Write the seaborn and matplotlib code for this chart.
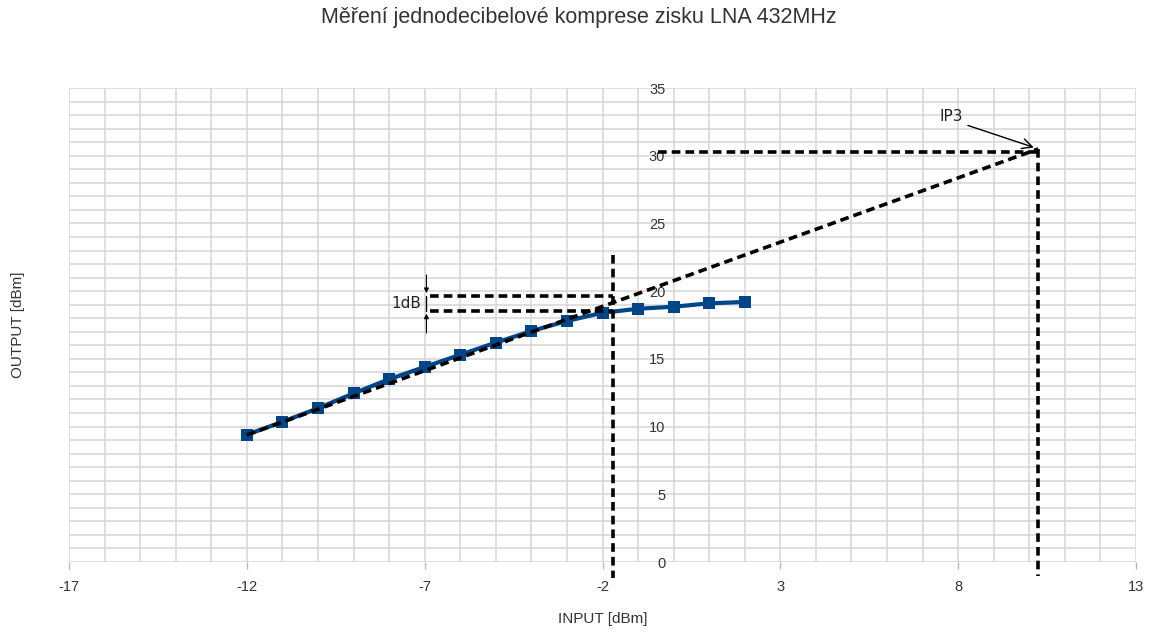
import matplotlib
matplotlib.use("Agg")
import matplotlib.pyplot as plt
import seaborn as sns
import pandas as pd
from matplotlib.ticker import MultipleLocator, FixedLocator

# ---- data ----
input_dbm = [-12, -11, -10, -9, -8, -7, -6, -5, -4, -3, -2, -1, 0, 1, 2]
output_dbm = [9.4, 10.35, 11.35, 12.45, 13.5, 14.4, 15.3, 16.2, 17.05, 17.8, 18.4, 18.7, 18.85, 19.1, 19.2]
x_ticks = [-17, -12, -7, -2, 3, 8, 13]
y_ticks = [0, 5, 10, 15, 20, 25, 30, 35]
title = "Měření jednodecibelové komprese zisku LNA 432MHz"

# annotation construction values
ip3_point = (10.25, 30.5)
lin_start = (-12, 9.38)
p1db_x = -1.7
p1db_levels = [19.65, 18.55]
ip3_level = 30.3

sns.set_style("white")
plt.rcParams['font.family'] = ['Liberation Sans', 'DejaVu Sans']
plt.rcParams['axes.unicode_minus'] = False

fig = plt.figure(figsize=(11.57, 6.33), dpi=100)
ax = fig.add_axes([69/1157, 1-562/633, (1136-69)/1157, (562-88)/633])

df = pd.DataFrame({"INPUT": input_dbm, "OUTPUT": output_dbm})
sns.lineplot(data=df, x="INPUT", y="OUTPUT", ax=ax, color="#004586", linewidth=3,
             marker="s", markersize=9, markeredgewidth=0, zorder=3)

ax.set_xlim(-17, 13)
ax.set_ylim(0, 35)
ax.xaxis.set_major_locator(FixedLocator(x_ticks))
ax.xaxis.set_minor_locator(MultipleLocator(1))
ax.yaxis.set_major_locator(FixedLocator(y_ticks))
ax.yaxis.set_minor_locator(MultipleLocator(1))
ax.grid(True, which="both", color="#d6d6d6", linewidth=1.1)
ax.set_axisbelow(True)
for s in ax.spines.values():
    s.set_visible(False)
ax.spines['left'].set_position(('data', 0))
ax.tick_params(axis='y', which='both', length=0, pad=6, labelsize=10.5, labelcolor="#333333")
ax.tick_params(axis='x', which='major', length=5, width=1, color="#b8b8b8", pad=8,
               labelsize=10.5, labelcolor="#333333", bottom=True)
ax.tick_params(axis='x', which='minor', length=0)

ax.set_xlabel("INPUT [dBm]", fontsize=11, color="#333333", labelpad=13)
ax.set_ylabel("")
fig.text(18/1157, 1-325/633, "OUTPUT [dBm]", rotation=90, ha="center", va="center",
         fontsize=11, color="#333333")
fig.text(0.5, 1-18/633, title, ha="center", va="center", fontsize=15.5, color="#333333")

dash = (0, (2.4, 1.4))
lw = 2.6
# extrapolated linear line to IP3
ax.plot([lin_start[0], ip3_point[0]], [lin_start[1], ip3_point[1]], color="black",
        lw=lw, linestyle=dash, zorder=4)
# IP3 horizontal and vertical
ax.plot([-0.45, ip3_point[0]], [ip3_level, ip3_level], color="black", lw=lw, linestyle=dash, zorder=4)
ax.plot([ip3_point[0], ip3_point[0]], [ip3_point[1], -1.0], color="black", lw=lw,
        linestyle=dash, zorder=4, clip_on=False)
# P1dB vertical
ax.plot([p1db_x, p1db_x], [22.7, -1.2], color="black", lw=lw, linestyle=dash, zorder=4, clip_on=False)
# 1dB horizontal lines
for lvl in p1db_levels:
    ax.plot([-6.85, p1db_x], [lvl, lvl], color="black", lw=lw, linestyle=dash, zorder=4)
# 1dB bracket arrows
ax.annotate("", xy=(-6.95, p1db_levels[0]), xytext=(-6.95, 21.4),
            arrowprops=dict(arrowstyle="-|>", color="black", lw=0.8, mutation_scale=7))
ax.annotate("", xy=(-6.95, p1db_levels[1]), xytext=(-6.95, 16.7),
            arrowprops=dict(arrowstyle="-|>", color="black", lw=0.8, mutation_scale=7))
ax.plot([-6.95, -6.95], p1db_levels, color="black", lw=1)
ax.text(-7.1, 19.1, "1dB", ha="right", va="center", fontsize=11, family="DejaVu Sans", color="#222222")
# IP3 label and arrow
ax.annotate("", xy=(ip3_point[0] - 0.05, ip3_point[1] + 0.05), xytext=(8.2, 32.3),
            arrowprops=dict(arrowstyle="->", color="black", lw=1, mutation_scale=18))
ax.text(7.8, 32.9, "IP3", ha="center", va="center", fontsize=11, family="DejaVu Sans", color="#222222")

fig.savefig("out.png", dpi=100)
